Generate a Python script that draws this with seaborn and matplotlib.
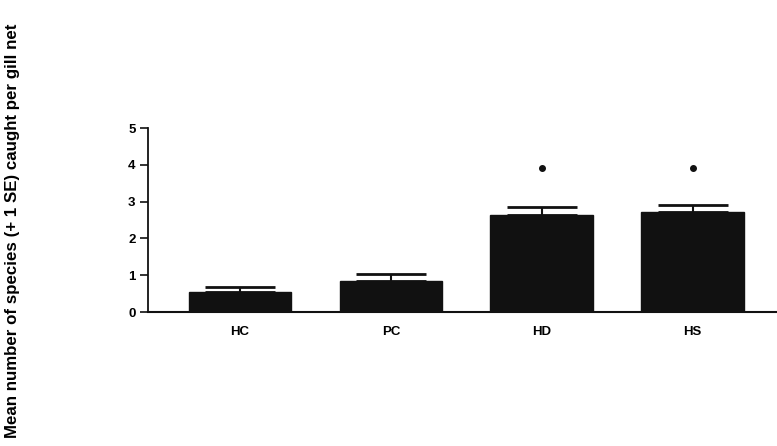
import matplotlib
matplotlib.use("Agg")
import matplotlib.pyplot as plt
import seaborn as sns
import pandas as pd

categories = ["HC", "PC", "HD", "HS"]
means = [0.55, 0.84, 2.64, 2.72]
se = [0.13, 0.19, 0.21, 0.19]
sig_marks = [None, None, 3.9, 3.9]
yticks = [0, 1, 2, 3, 4, 5]

sns.set_theme(style="ticks")
plt.rcParams["font.family"] = ["Liberation Sans", "DejaVu Sans"]
plt.rcParams["font.weight"] = "bold"
plt.rcParams["text.color"] = "black"

df = pd.DataFrame({"site": categories, "mean": means})

fig = plt.figure(figsize=(7.77, 4.46), dpi=100)
ax = fig.add_axes([0.1905, 0.3004, 0.8095, 0.4126])

sns.barplot(data=df, x="site", y="mean", color="#111111", saturation=1,
            width=0.68, errorbar=None, ax=ax, edgecolor="#111111")
ax.errorbar(range(len(categories)), means, yerr=[[0] * len(se), se], fmt="none",
            ecolor="#111111", elinewidth=1.5, capsize=25, capthick=2)
for i, m in enumerate(sig_marks):
    if m is not None:
        ax.plot(i, m, "o", color="#111111", markersize=4)

ax.set_xlim(-0.61, 3.56)
ax.set_ylim(0, 5)
ax.set_yticks(yticks)
ax.set_yticklabels([str(t) for t in yticks], fontsize=9.5, fontweight="bold", color="black")
ax.set_xticks(range(len(categories)))
ax.set_xticklabels(categories, fontsize=9.5, fontweight="bold", color="black")
ax.tick_params(axis="x", length=0, pad=10)
ax.tick_params(axis="y", length=6, width=1.2, color="#111111", pad=3)
ax.set_xlabel("")
ax.set_ylabel("")
for s in ["top", "right"]:
    ax.spines[s].set_visible(False)
ax.spines["left"].set_linewidth(1.3)
ax.spines["bottom"].set_linewidth(1.5)
ax.spines["left"].set_color("#111111")
ax.spines["bottom"].set_color("#111111")

fig.text(0.016, 0.482, "Mean number of species (+ 1 SE) caught per gill net",
         rotation=90, ha="center", va="center", fontsize=12.2, fontweight="bold",
         color="black")

fig.savefig("out.png", dpi=100)
